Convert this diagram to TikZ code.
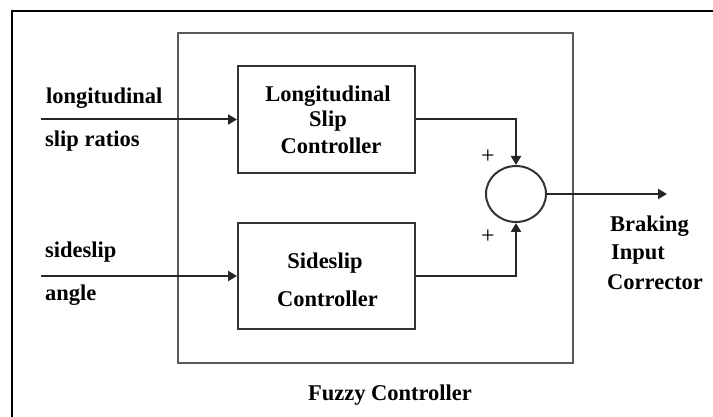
\documentclass[tikz,border=0pt]{standalone}
\usepackage{fontspec}
\setmainfont{Liberation Serif}
\usetikzlibrary{arrows.meta,shapes.geometric}
\begin{document}
\begin{tikzpicture}[x=1pt,y=-1pt,
  txt/.style={font=\fontsize{22.5}{26}\selectfont\bfseries, inner sep=0pt},
  blk/.style={draw=black!80, line width=2pt, minimum width=177pt, minimum height=107pt, inner sep=0pt},
  conn/.style={draw=black!85, line width=2pt},
  arr/.style={conn, -{Triangle[length=9pt,width=10pt]}},
  plus/.style={font=\fontsize{24}{24}\selectfont, inner sep=0pt}]
\useasboundingbox (0,0) rectangle (713,417);
% outer frame
\draw[line width=2pt] (11.5,417) -- (11.5,11.5) -- (713,11.5);
% fuzzy controller box
\node[draw=black!65, line width=2.4pt, minimum width=395pt, minimum height=330pt, inner sep=0pt] (fc) at (375.5,198) {};
\node[txt, anchor=base] (fct) at (390,400) {Fuzzy Controller};
% controller blocks
\node[blk] (L) at (326.5,119.5) {};
\node[blk, minimum height=106pt] (S) at (326.5,276) {};
\node[txt, anchor=base] (L1) at (328,102) {Longitudinal};
\node[txt, anchor=base] (L2) at (328,127) {Slip};
\node[txt, anchor=base] (L3) at (331,154) {Controller};
\node[txt, anchor=base] (S1) at (325,269) {Sideslip};
\node[txt, anchor=base] (S2) at (327.5,306) {Controller};
% summing junction
\node[ellipse, draw=black!80, line width=2pt, minimum width=60pt, minimum height=56pt, inner sep=0pt] (sum) at (516,194) {};
\node[plus] (p1) at (488,157) {+};
\node[plus] (p2) at (488,237) {+};
% inputs
\coordinate (in1) at (41,119.5);
\coordinate (in2) at (41,276);
\coordinate (out) at (667,194);
\draw[arr] (in1) -- (L.west);
\draw[arr] (in2) -- (S.west);
\draw[arr] (L.east) -| (sum.north);
\draw[arr] (S.east) -| (sum.south);
\draw[arr] (sum.east) -- (out);
% input labels
\node[txt, anchor=base west] (t1) at (46,104) {longitudinal};
\node[txt, anchor=base west] (t2) at (45,147) {slip ratios};
\node[txt, anchor=base west] (t3) at (45,258) {sideslip};
\node[txt, anchor=base west] (t4) at (45,300) {angle};
% output labels
\node[txt, anchor=base west] (o1) at (610,232) {Braking};
\node[txt, anchor=base west] (o2) at (611,260) {Input};
\node[txt, anchor=base west] (o3) at (607,290) {Corrector};
\end{tikzpicture}
\end{document}
